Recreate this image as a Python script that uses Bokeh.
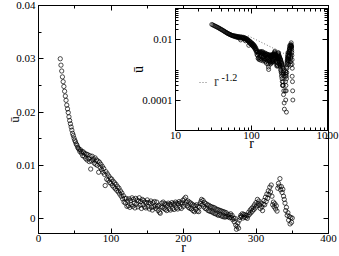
from bokeh.plotting import figure
from bokeh.models import (FixedTicker, CustomJSTickFormatter, LinearAxis, LogAxis,
                          Legend, LegendItem, Label, Range1d)
from bokeh.embed import file_html
from bokeh.resources import INLINE

# ---------------- data ----------------
r = list(range(30, 351))
u_milli = [
    30.0, 28.8, 27.7, 26.6, 25.7, 24.8, 23.9, 23.0, 22.2, 21.3,
    20.6, 19.9, 19.1, 18.4, 17.8, 17.2, 16.6, 16.0, 15.6, 15.1,
    14.7, 14.4, 14.0, 13.8, 13.4, 13.2, 13.0, 12.6, 12.9, 12.3,
    12.6, 11.8, 12.5, 11.7, 12.2, 11.3, 12.1, 11.0, 12.0, 11.3,
    10.7, 11.8, 9.3, 10.8, 11.7, 11.0, 11.2, 10.4, 11.4, 10.2,
    11.0, 10.0, 10.8, 8.7, 10.6, 9.6, 10.2, 9.2, 9.8, 8.7,
    9.4, 8.3, 6.2, 8.8, 7.4, 8.4, 7.2, 8.0, 6.8, 7.6,
    6.6, 7.4, 6.2, 7.0, 5.9, 6.7, 5.6, 6.4, 5.3, 6.0,
    5.0, 5.7, 4.6, 5.2, 4.2, 4.8, 3.7, 4.3, 3.1, 3.8,
    2.9, 3.8, 2.3, 3.3, 2.4, 3.7, 2.1, 3.4, 2.6, 3.9,
    2.3, 3.6, 2.9, 2.0, 3.8, 2.7, 3.5, 2.2, 3.3, 3.9,
    2.5, 3.2, 1.9, 3.6, 2.6, 3.4, 2.2, 3.1, 2.0, 3.0,
    3.5, 2.2, 3.0, 1.8, 2.9, 3.3, 2.1, 1.6, 3.0, 2.2,
    3.2, 2.4, 1.9, 3.1, 2.3, 1.5, 2.5, 1.2, 1.0, 2.2,
    2.9, 2.1, 3.1, 1.9, 2.8, 1.7, 2.7, 1.5, 2.5, 2.9,
    1.8, 2.7, 1.6, 2.6, 3.0, 1.9, 2.8, 1.7, 2.7, 3.1,
    2.0, 2.9, 1.8, 2.8, 3.2, 2.1, 3.0, 1.9, 2.9, 3.4,
    2.3, 3.7, 2.7, 4.0, 3.1, 2.4, 3.3, 2.1, 3.1, 1.9,
    2.9, 1.8, 2.7, 1.5, 2.5, 1.3, 2.4, 1.7, 2.6, 1.4,
    2.3, 1.3, 2.2, 2.8, 3.2, 3.6, 2.6, 3.4, 2.2, 3.0,
    1.9, 2.8, 1.8, 2.6, 1.5, 2.5, 1.4, 2.3, 1.3, 2.2,
    1.2, 2.1, 1.0, 2.0, 0.9, 1.8, 0.8, 1.7, 0.6, 1.6,
    0.7, 1.5, 0.5, 1.4, 0.4, 1.3, 0.3, 1.2, 0.3, 1.1,
    0.4, 0.8, 0.3, 0.7, 0.15, 0.9, 0.2, 0.6, -0.2, 0.08,
    -0.6, 0.05, -1.2, -2.0, -1.5, -0.8, -1.8, -0.3, 0.2, 0.6,
    0.4, 0.9, 0.1, 0.8, 0.3, 0.7, 0.2, 0.6, 0.04, 0.5,
    1.2, 0.8, 1.6, 1.1, 1.9, 1.4, 2.2, 1.7, 2.6, 2.0,
    3.0, 2.4, 3.6, 2.8, 3.3, 2.5, 1.9, 2.9, 2.2, 1.5,
    2.7, 3.4, 2.6, 4.0, 3.2, 4.6, 3.8, 5.2, 4.5, 5.9,
    5.0, 6.3, 4.2, 2.6, 3.1, 2.2, 2.8, 1.8, 2.4, 1.4,
    5.7, 6.6, 6.1, 7.5, 5.4, 6.0, 4.9, 5.5, 4.2, 3.6,
    2.9, 1.5, 2.1, 0.6, 1.1, -0.3, 0.4, -1.0, 0.2, -0.7,
    0.1,
]
u = [v / 1000.0 for v in u_milli]

# positive values only for the log-log inset
r_pos = [ri for ri, ui in zip(r, u) if ui > 0]
u_pos = [ui for ui in u if ui > 0]

# r^-1.2 guide line (endpoints)
fit_r = [90, 350]
fit_u = [0.0128, 0.0024]

main_xticks = [0, 100, 200, 300, 400]
main_xminor = [50, 150, 250, 350]
main_yticks = [0.0, 0.01, 0.02, 0.03, 0.04]
main_yminor = [0.005, 0.015, 0.025, 0.035]
inset_xticks = [10, 100, 1000]
inset_xminor = [20, 30, 40, 50, 60, 70, 80, 90, 200, 300, 400, 500, 600, 700, 800, 900]
inset_yticks = [0.0001, 0.01]
inset_yminor = [0.0002, 0.0003, 0.0004, 0.0005, 0.0006, 0.0007, 0.0008, 0.0009,
                0.02, 0.03, 0.04, 0.05, 0.06, 0.07, 0.08, 0.09]

FONT = "Liberation Serif"
fmt = CustomJSTickFormatter(code="return String(Number(tick.toPrecision(6)));")
blank = CustomJSTickFormatter(code="return '';")


def style_axis(ax, label_size="11px"):
    ax.axis_line_color = "black"
    ax.major_tick_line_color = "black"
    ax.minor_tick_line_color = "black"
    ax.major_tick_in = 5
    ax.major_tick_out = 0
    ax.minor_tick_in = 3
    ax.minor_tick_out = 0
    ax.major_label_text_font = FONT
    ax.major_label_text_font_size = label_size
    ax.major_label_text_color = "black"
    ax.axis_label_text_font = FONT
    ax.axis_label_text_font_style = "normal"
    ax.axis_label_text_color = "black"
    ax.axis_label_text_font_size = "14px"


# ---------------- main plot ----------------
p = figure(frame_width=290, frame_height=228, output_backend="svg", toolbar_location=None,
           x_range=Range1d(0, 400), y_range=Range1d(-0.0028, 0.04),
           min_border_left=38, min_border_right=11, min_border_top=5, min_border_bottom=23)
p.xgrid.visible = False
p.ygrid.visible = False
p.outline_line_color = "black"
p.background_fill_color = "white"

xt = FixedTicker(ticks=main_xticks, minor_ticks=main_xminor)
yt = FixedTicker(ticks=main_yticks, minor_ticks=main_yminor)
p.xaxis.ticker = xt
p.yaxis.ticker = yt
p.xaxis.formatter = fmt
p.yaxis.formatter = fmt
p.xaxis.axis_label = "r"
p.yaxis.axis_label = "ū"
for ax in p.xaxis + p.yaxis:
    style_axis(ax)
p.xaxis.major_label_standoff = 1
p.xaxis.axis_label_standoff = -5
p.yaxis.major_label_standoff = 3
p.yaxis.axis_label_standoff = -9
p.yaxis.axis_label_text_font_size = "13px"

top_ax = LinearAxis(ticker=xt, formatter=blank, major_label_standoff=0)
right_ax = LinearAxis(ticker=yt, formatter=blank, major_label_standoff=0)
style_axis(top_ax, "0px")
style_axis(right_ax, "0px")
p.add_layout(top_ax, "above")
p.add_layout(right_ax, "right")

p.scatter(r, u, marker="circle", size=4.3, fill_color=None, line_color="black", line_width=0.7)

# ---------------- inset ----------------
ins = figure(frame_width=152, frame_height=122, output_backend="svg", toolbar_location=None,
             x_axis_type="log", y_axis_type="log",
             x_range=Range1d(10, 1000), y_range=Range1d(1e-5, 0.1),
             min_border_left=56, min_border_right=14, min_border_top=3, min_border_bottom=26)
ins.xgrid.visible = False
ins.ygrid.visible = False
ins.outline_line_color = "black"
ins.background_fill_color = "white"
ins.border_fill_alpha = 0
ins.border_fill_color = None

ixt = FixedTicker(ticks=inset_xticks, minor_ticks=inset_xminor)
iyt = FixedTicker(ticks=inset_yticks, minor_ticks=inset_yminor)
ins.xaxis.ticker = ixt
ins.yaxis.ticker = iyt
ins.xaxis.formatter = fmt
ins.yaxis.formatter = fmt
ins.xaxis.axis_label = "r"
ins.yaxis.axis_label = "ū"
for ax in ins.xaxis + ins.yaxis:
    style_axis(ax)
ins.xaxis.major_label_standoff = 1
ins.xaxis.axis_label_standoff = -6
ins.yaxis.major_label_standoff = 3
ins.yaxis.axis_label_standoff = -7

itop = LogAxis(ticker=ixt, formatter=blank, major_label_standoff=0)
iright = LogAxis(ticker=iyt, formatter=blank, major_label_standoff=0)
style_axis(itop, "0px")
style_axis(iright, "0px")
ins.add_layout(itop, "above")
ins.add_layout(iright, "right")

ins.scatter(r_pos, u_pos, marker="circle", size=4, fill_color=None, line_color="black", line_width=0.7)
fit = ins.line(fit_r, fit_u, line_color="#777777", line_dash="1 2", line_width=1)

leg = Legend(items=[LegendItem(label="r", renderers=[fit])], location=(24, 40),
             background_fill_alpha=0, border_line_color=None, padding=0, margin=0,
             glyph_width=9, glyph_height=10, label_standoff=6,
             label_text_font=FONT, label_text_font_size="14px")
ins.add_layout(leg, "center")
ins.add_layout(Label(x=46, y=53, x_units="screen", y_units="screen", text="-1.2",
                     text_baseline="middle",
                     text_font=FONT, text_font_size="10px", text_color="black"))

ins.styles = {"position": "absolute", "left": "119px", "top": "5px"}

open("out.html", "w").write(file_html([p, ins], INLINE))
